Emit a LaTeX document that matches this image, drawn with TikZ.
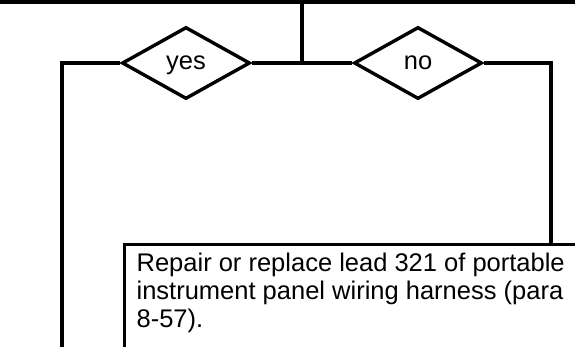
\documentclass[tikz,border=0pt]{standalone}
\usepackage{fontspec}
\setmainfont{Liberation Sans}
\usetikzlibrary{shapes.geometric}

\begin{document}
\begin{tikzpicture}[
  x=1pt,
  y=-1pt,
  line width=3.4pt,
  every node/.style={font=\fontsize{25.5}{28}\selectfont},
  decision/.style={draw, diamond, inner sep=0pt, text height=13pt, text depth=0pt,
    minimum width=128pt, minimum height=72pt},
  action/.style={draw, rectangle, anchor=north west, align=left,
    minimum width=452pt, inner ysep=8.5pt, text depth=13.5pt}
]
\useasboundingbox (0,0) rectangle (575,347);

\node[decision] (yes) at (186,63) {yes};
\node[decision] (no) at (418,63) {no};
\node[action] (fix) at (123,243) {Repair or replace lead 321 of portable\\instrument panel wiring harness (para\\8-57).};

\coordinate (topL) at (0,2);
\coordinate (topR) at (575,2);
\coordinate (split) at (302,2);
\coordinate (join) at (302,63);
\coordinate (leftdrop) at (62,348);
\coordinate (rightdrop) at (551,243);

\draw[line width=4pt] (topL) -- (topR);
\draw (split) -- (join);
\draw (yes.east) -- (no.west);
\draw (yes.west) -| (leftdrop);
\draw (no.east) -| (rightdrop);
\end{tikzpicture}
\end{document}
